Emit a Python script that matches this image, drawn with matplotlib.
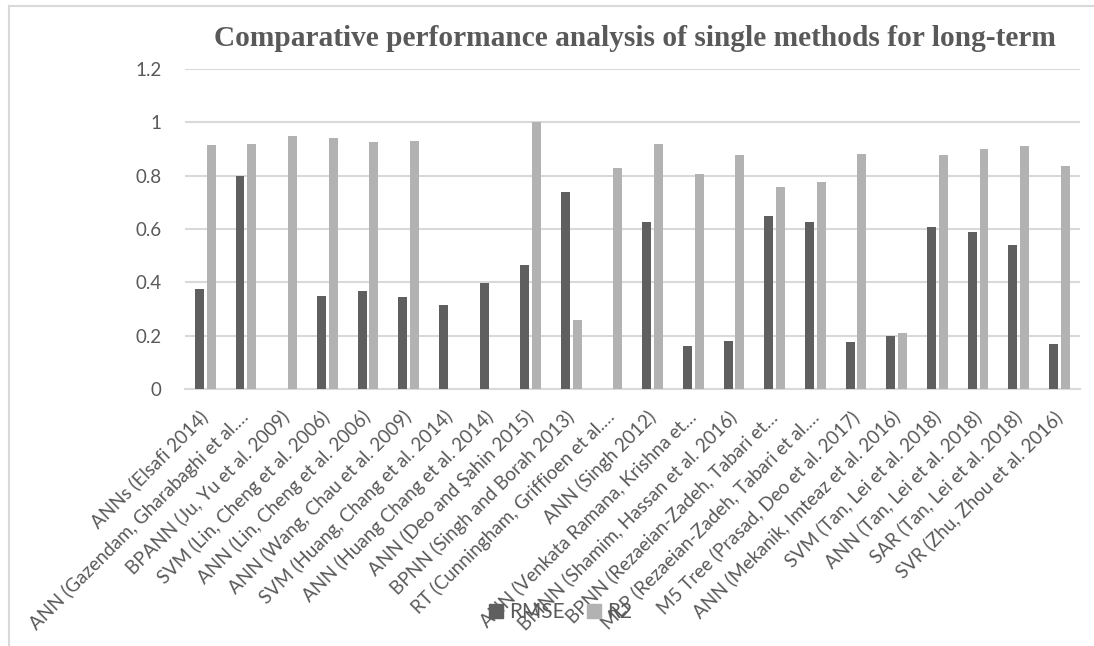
import matplotlib
matplotlib.use("Agg")
import matplotlib.pyplot as plt
import numpy as np
from matplotlib.lines import Line2D

categories = [
    "ANNs (Elsafi 2014)",
    "ANN (Gazendam, Gharabaghi et al.…",
    "BPANN (Ju, Yu et al. 2009)",
    "SVM (Lin, Cheng et al. 2006)",
    "ANN (Lin, Cheng et al. 2006)",
    "ANN (Wang, Chau et al. 2009)",
    "SVM (Huang, Chang et al. 2014)",
    "ANN (Huang Chang et al. 2014)",
    "ANN (Deo and Şahin 2015)",
    "BPNN (Singh and Borah 2013)",
    "RT (Cunningham, Griffioen et al.…",
    "ANN (Singh 2012)",
    "ANN (Venkata Ramana, Krishna et…",
    "BMNN (Shamim, Hassan et al. 2016)",
    "BPNN (Rezaeian-Zadeh, Tabari et…",
    "MLP (Rezaeian-Zadeh, Tabari et al.…",
    "M5 Tree (Prasad, Deo et al. 2017)",
    "ANN (Mekanik, Imteaz et al. 2016)",
    "SVM (Tan, Lei et al. 2018)",
    "ANN (Tan, Lei et al. 2018)",
    "SAR (Tan, Lei et al. 2018)",
    "SVR (Zhu, Zhou et al. 2016)",
]
rmse = [0.373, 0.80, 0, 0.350, 0.368, 0.343, 0.315, 0.396, 0.464, 0.739,
        0, 0.627, 0.162, 0.181, 0.649, 0.628, 0.175, 0.199, 0.609, 0.589,
        0.539, 0.169]
r2 = [0.915, 0.919, 0.949, 0.941, 0.928, 0.931, 0, 0, 1.0, 0.258,
      0.829, 0.919, 0.805, 0.879, 0.759, 0.778, 0.881, 0.208, 0.879, 0.899,
      0.910, 0.838]
yticks = [0, 0.2, 0.4, 0.6, 0.8, 1, 1.2]
ytick_labels = ["0", "0.2", "0.4", "0.6", "0.8", "1", "1.2"]
title = "Comparative performance analysis of single methods for long-term"
series_names = ["RMSE", "R2"]

C_RMSE = "#5f5f5f"
C_R2 = "#b2b2b2"
TXT = "#595959"
GRID = "#d9d9d9"
FONT = ["Lato", "DejaVu Sans"]

fig = plt.figure(figsize=(10.94, 6.46), dpi=100)
ax = fig.add_axes([0.169, 0.398, 0.818, 0.495])

x = np.arange(len(categories))
w = 0.22
ax.bar(x - 0.145, rmse, width=w, color=C_RMSE, zorder=3)
ax.bar(x + 0.145, r2, width=w, color=C_R2, zorder=3)

ax.set_xlim(-0.5, len(categories) - 0.5)
ax.set_ylim(0, 1.2)
ax.set_yticks(yticks)
ax.set_yticklabels(ytick_labels, fontsize=13.5, color=TXT, family=FONT)
ax.yaxis.grid(True, color=GRID, linewidth=1.5, zorder=0)
ax.tick_params(axis="y", length=0, pad=17)
ax.tick_params(axis="x", length=0, pad=18)
for s in ["top", "right", "left"]:
    ax.spines[s].set_visible(False)
ax.spines["bottom"].set_color(GRID)
ax.spines["bottom"].set_linewidth(1.5)

ax.set_xticks(x)
ax.set_xticklabels(categories, rotation=45, ha="right", va="center",
                   rotation_mode="anchor", fontsize=13.5, color=TXT, family=FONT)

fig.text(0.58, 0.940, title, ha="center", va="center", fontsize=21.2,
         fontweight="bold", color=TXT, family="Liberation Serif")

handles = [Line2D([], [], marker="s", linestyle="none", markersize=10,
                  color=c) for c in (C_RMSE, C_R2)]
fig.legend(handles, series_names, loc="center", bbox_to_anchor=(0.51, 0.052),
           ncol=2, frameon=False, handletextpad=0.05, handlelength=1.2,
           columnspacing=0.8, prop={"family": FONT, "size": 15},
           labelcolor=TXT)

# chart area border (left and top visible)
fig.add_artist(Line2D([9 / 1094, 9 / 1094], [0, 1 - 6 / 646],
                      transform=fig.transFigure, color=GRID, linewidth=1.5))
fig.add_artist(Line2D([9 / 1094, 1], [1 - 6 / 646, 1 - 6 / 646],
                      transform=fig.transFigure, color=GRID, linewidth=1.5))

fig.savefig("out.png", dpi=100)
